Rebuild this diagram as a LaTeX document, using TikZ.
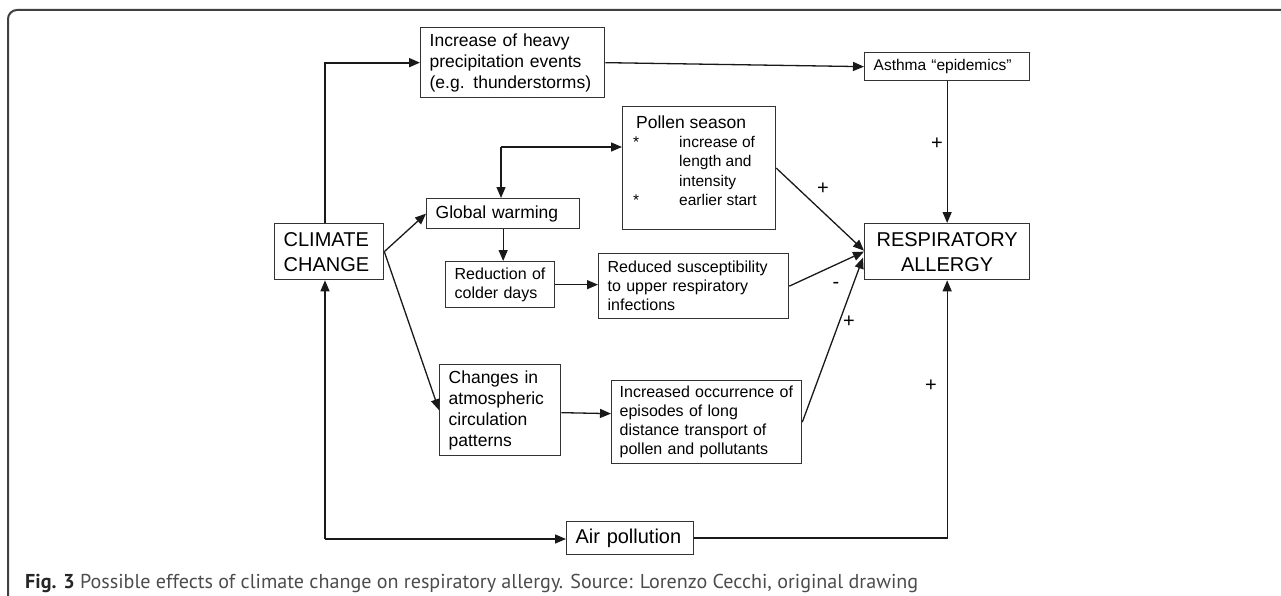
\documentclass[tikz,border=0pt]{standalone}
\usepackage{fontspec}
\usepackage{graphicx}
\setmainfont{Liberation Sans}
\newfontfamily\capfont{PT Sans}
\usetikzlibrary{arrows.meta,calc}
\begin{document}
\begin{tikzpicture}[x=1pt,y=-1pt,
  box/.style={draw=black!80, line width=1.3pt, anchor=north west, align=left, inner xsep=9pt, inner ysep=0pt, font=\fontsize{17.5}{21}\selectfont},
  arr/.style={draw=black!90, line width=1.3pt, -{Triangle[length=11pt,width=9pt]}},
  thick arr/.style={arr, line width=2pt},
  thick ln/.style={draw=black!90, line width=2pt},
  sgn/.style={font=\fontsize{20}{20}\selectfont, inner sep=0pt}
]
\useasboundingbox (0,0) rectangle (1281,596);
% outer frame
\draw[line width=2pt, black!75, rounded corners=9pt] (8,606) -- (8,10) -- (1295,10);

% boxes
\node[box, text width=166pt, minimum height=70pt] (heavy) at (420,27) {Increase of heavy\\precipitation events\\(e.g. thunderstorms)};
\node[box, text width=147pt, minimum height=28pt, font=\fontsize{15.5}{18}\selectfont] (asthma) at (864,52) {Asthma “epidemics”};
\node[box, text width=91pt, minimum height=56pt, font=\fontsize{20}{25}\selectfont] (cc) at (274,223) {CLIMATE\\CHANGE};
\node[box, text width=147pt, minimum height=56pt, align=center, font=\fontsize{20}{25}\selectfont] (resp) at (864,223) {RESPIRATORY\\ALLERGY};
\node[box, text width=135pt, minimum height=30pt] (gw) at (426,198) {Global warming};
\node[box, minimum width=153pt, minimum height=123pt] (pollen) at (622,106) {};
\node[anchor=north west, inner sep=0pt, font=\fontsize{15.5}{19.3}\selectfont] (pollentxt) at (633,114.5)
  {\begin{tabular}{@{}p{46pt}@{}l@{}}
   \multicolumn{2}{@{}l@{}}{\hspace{3pt}\fontsize{17.5}{19.3}\selectfont Pollen season}\\
   {*} & increase of\\
       & length and\\
       & intensity\\
   {*} & earlier start
   \end{tabular}};
\node[box, text width=91pt, minimum height=46pt, font=\fontsize{16}{18.5}\selectfont] (red) at (445,261) {Reduction of\\colder days};
\node[box, text width=172pt, minimum height=65pt, font=\fontsize{16}{19}\selectfont] (reduced) at (598,253) {Reduced susceptibility\\to upper respiratory\\infections};
\node[box, text width=103pt, minimum height=91pt] (changes) at (439,364) {Changes in\\atmospheric\\circulation\\patterns};
\node[box, inner xsep=8pt, text width=174pt, minimum height=83pt, font=\fontsize{16}{19}\selectfont] (incr) at (611,380) {Increased occurrence of\\episodes of long\\distance transport of\\pollen and pollutants};
\node[box, text width=109pt, minimum height=33pt, font=\fontsize{20}{24}\selectfont] (air) at (566,521) {Air pollution};

% connectors
\coordinate (vx) at (325,0);
\coordinate (elb) at (501,147);
\coordinate (bl) at (325,539);
\coordinate (br) at (resp.south |- air.east);
\draw[thick arr] (vx |- cc.north) |- (heavy.west);
\draw[arr] (heavy.east) -- (asthma.west);
\draw[arr] (asthma.south) -- (resp.north);
\draw[arr] (cc.east) -- (gw.west);
\draw[arr] (cc.east) -- (changes.west);
\draw[arr] (elb) -- (elb -| pollen.west);
\draw[arr] (elb) -- (elb |- gw.north);
\draw[arr] (gw.south) -- (gw.south |- red.north);
\draw[arr] (red.east) -- (red.east -| reduced.west);
\draw[arr] ($(changes.east)+(0,2.5)$) -- ($(changes.east -| incr.west)+(0,3.5)$);
\draw[arr] (pollen.east) -- ($(resp.west)+(0,-1)$);
\draw[arr] (reduced.east) -- (resp.west);
\draw[arr] (incr.east) -- ($(resp.west)+(-1,6)$);
\draw[arr] (bl) -- (vx |- cc.south);
\draw[arr] (bl) -- (bl -| air.west);
\draw[thick ln] (air.east) -- ([xshift=1pt]br);
\draw[arr] (br) -- (resp.south);

% signs
\node[sgn] (s1) at (937,144) {+};
\node[sgn] (s2) at (823,189) {+};
\node[sgn] (s3) at (836,285) {-};
\node[sgn] (s4) at (849,322) {+};
\node[sgn] (s5) at (931,386) {+};

% caption
\node[anchor=base west, inner sep=0pt] (cap) at (25,588)
  {\resizebox{893pt}{!}{\capfont\fontsize{18}{18}\selectfont\textcolor{black!85}{\textbf{Fig. 3}} \textcolor{black!70}{Possible effects of climate change on respiratory allergy. Source: Lorenzo Cecchi, original drawing}}};
\end{tikzpicture}
\end{document}
